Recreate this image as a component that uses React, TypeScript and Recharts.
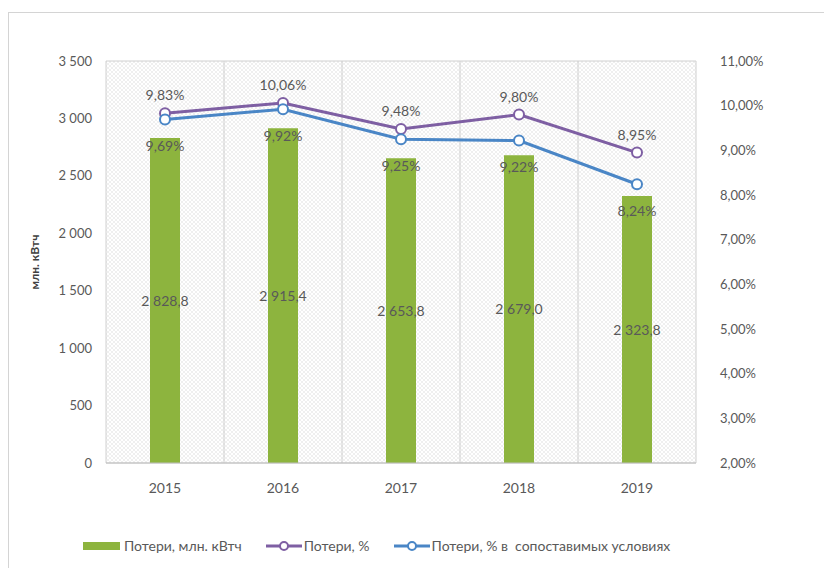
import React from 'react'
import {
  ComposedChart,
  Bar,
  Line,
  XAxis,
  YAxis,
  CartesianGrid,
  LabelList,
  Legend,
} from 'recharts'

const years = ['2015', '2016', '2017', '2018', '2019']
const lossesMwh = [2828.8, 2915.4, 2653.8, 2679.0, 2323.8]
const lossesPct = [9.83, 10.06, 9.48, 9.8, 8.95]
const lossesPctComparable = [9.69, 9.92, 9.25, 9.22, 8.24]
const leftTicks = [0, 500, 1000, 1500, 2000, 2500, 3000, 3500]
const rightTicks = [2, 3, 4, 5, 6, 7, 8, 9, 10, 11]

const data = years.map((year, i) => ({
  year,
  mwh: lossesMwh[i],
  pct: lossesPct[i],
  pctCmp: lossesPctComparable[i],
}))

const FONT = 'Lato, "Open Sans", sans-serif'
const TEXT = '#595959'
const GREEN = '#8db43e'
const PURPLE = '#7e5fa3'
const BLUE = '#4a86c6'

// non-breaking space so the label doesn't wrap inside the bar
const fmtThousands = (v: number) => {
  const [int, dec] = v.toFixed(1).split('.')
  return int.replace(/\B(?=(\d{3})+(?!\d))/g, '\u00A0') + ',' + dec
}
const fmtInt = (v: number) => String(v).replace(/\B(?=(\d{3})+(?!\d))/g, '\u00A0')
const fmtPct = (v: number) => v.toFixed(2).replace('.', ',') + '%'

function LegendContent() {
  const item = { display: 'flex', alignItems: 'center', marginRight: 24 }
  const lineMarker = (color: string) => (
    <svg width={36} height={12} style={{ marginRight: 2 }}>
      <line x1={0} y1={6} x2={36} y2={6} stroke={color} strokeWidth={3} />
      <circle cx={18} cy={6} r={4} fill="#fff" stroke={color} strokeWidth={2} />
    </svg>
  )
  return (
    <div
      style={{
        display: 'flex',
        justifyContent: 'flex-start',
        fontFamily: FONT,
        fontSize: 14,
        color: TEXT,
        paddingLeft: 33,
      }}
    >
      <div style={item}>
        <span style={{ width: 37, height: 8, background: GREEN, marginRight: 4, display: 'inline-block' }} />
        Потери, млн. кВтч
      </div>
      <div style={item}>
        {lineMarker(PURPLE)}
        Потери, %
      </div>
      <div style={{ ...item, marginRight: 0 }}>
        {lineMarker(BLUE)}
        Потери, % в&nbsp; сопоставимых условиях
      </div>
    </div>
  )
}

export default function App() {
  return (
    <div
      style={{
        position: 'absolute',
        left: 0,
        top: 0,
        width: 824,
        height: 568,
        background: '#fff',
        overflow: 'hidden',
      }}
    >
      <ComposedChart
        width={824}
        height={568}
        data={data}
        margin={{ top: 61, right: 60, left: 50, bottom: 58 }}
      >
        <defs>
          <pattern id="hatch" width="4" height="4" patternUnits="userSpaceOnUse">
            <path d="M0,4 L4,0 M0,0 L4,4" stroke="#e4e4e4" strokeWidth="0.6" />
          </pattern>
        </defs>
        <CartesianGrid
          fill="url(#hatch)"
          stroke="#d0d0d0"
          verticalCoordinatesGenerator={({ offset }: any) =>
            years.map((_, i) => offset.left + (i * offset.width) / years.length).concat(offset.left + offset.width)
          }
        />
        <XAxis
          dataKey="year"
          tickLine={false}
          axisLine={{ stroke: '#bfbfbf' }}
          tickSize={0}
          tickMargin={20}
          tick={{ fill: TEXT, fontSize: 14, fontFamily: FONT }}
        />
        <YAxis
          yAxisId="left"
          width={56}
          domain={[0, 3500]}
          ticks={leftTicks}
          tickFormatter={fmtInt}
          tickLine={false}
          axisLine={false}
          tickSize={0}
          tickMargin={14}
          tick={{ fill: TEXT, fontSize: 13, fontFamily: FONT }}
          label={{
            value: 'млн. кВтч',
            angle: -90,
            position: 'insideLeft',
            offset: -15,
            style: { fill: '#404040', fontSize: 12, fontWeight: 'bold', fontFamily: FONT, textAnchor: 'middle' },
          }}
        />
        <YAxis
          yAxisId="right"
          orientation="right"
          width={68}
          domain={[2, 11]}
          ticks={rightTicks}
          tickFormatter={fmtPct}
          tickLine={false}
          axisLine={false}
          tickSize={0}
          tickMargin={24}
          tick={{ fill: TEXT, fontSize: 13, fontFamily: FONT }}
        />
        <Legend verticalAlign="bottom" content={<LegendContent />} wrapperStyle={{ bottom: 14 }} />
        <Bar yAxisId="left" dataKey="mwh" fill={GREEN} barSize={30} isAnimationActive={false}>
          <LabelList
            dataKey="mwh"
            position="center"
            formatter={(v: any) => fmtThousands(Number(v))}
            style={{ fill: TEXT, fontSize: 14, fontFamily: FONT }}
          />
        </Bar>
        <Line
          yAxisId="right"
          dataKey="pct"
          stroke={PURPLE}
          strokeWidth={3}
          dot={{ r: 5, fill: '#fff', stroke: PURPLE, strokeWidth: 2 }}
          isAnimationActive={false}
        >
          <LabelList
            dataKey="pct"
            position="top"
            offset={13}
            formatter={(v: any) => fmtPct(Number(v))}
            style={{ fill: TEXT, fontSize: 14, fontFamily: FONT }}
          />
        </Line>
        <Line
          yAxisId="right"
          dataKey="pctCmp"
          stroke={BLUE}
          strokeWidth={3}
          dot={{ r: 5, fill: '#fff', stroke: BLUE, strokeWidth: 2 }}
          isAnimationActive={false}
        >
          <LabelList
            dataKey="pctCmp"
            position="bottom"
            offset={22}
            formatter={(v: any) => fmtPct(Number(v))}
            style={{ fill: TEXT, fontSize: 14, fontFamily: FONT }}
          />
        </Line>
      </ComposedChart>
      <div
        style={{
          position: 'absolute',
          left: 8,
          top: 12,
          width: 830,
          height: 580,
          border: '1px solid #d4d4d4',
          pointerEvents: 'none',
        }}
      />
    </div>
  )
}
